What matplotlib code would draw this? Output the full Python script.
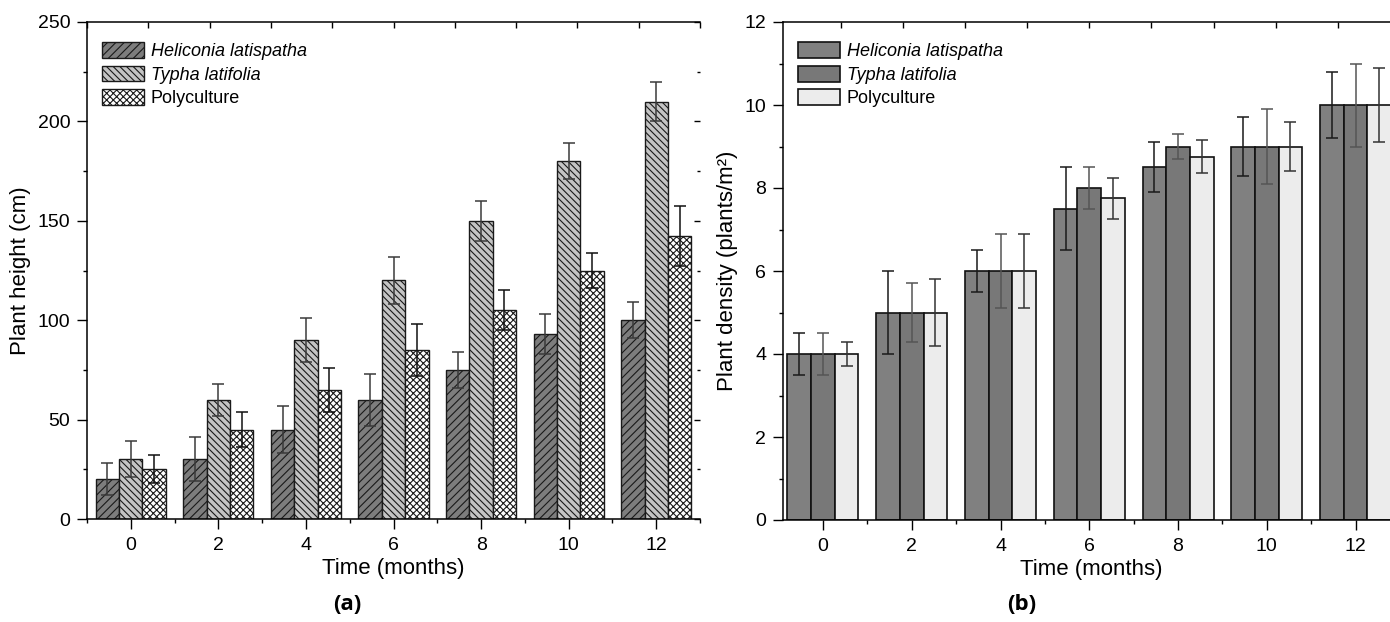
import matplotlib
matplotlib.use("Agg")
import matplotlib.pyplot as plt
from matplotlib.ticker import MultipleLocator
import numpy as np

months = [0, 2, 4, 6, 8, 10, 12]
series = ["Heliconia latispatha", "Typha latifolia", "Polyculture"]

# (a) plant height, cm
height_hel = [20, 30, 45, 60, 75, 93, 100]
height_hel_err = [8, 11, 12, 13, 9, 10, 9]
height_typ = [30, 60, 90, 120, 150, 180, 210]
height_typ_err = [9, 8, 11, 12, 10, 9, 10]
height_pol = [25, 45, 65, 85, 105, 125, 142.5]
height_pol_err = [7, 9, 11, 13, 10, 9, 15]

# (b) plant density, plants/m2
dens_hel = [4, 5, 6, 7.5, 8.5, 9, 10]
dens_hel_err = [0.5, 1.0, 0.5, 1.0, 0.6, 0.7, 0.8]
dens_typ = [4, 5, 6, 8, 9, 9, 10]
dens_typ_err = [0.5, 0.7, 0.9, 0.5, 0.3, 0.9, 1.0]
dens_pol = [4, 5, 6, 7.75, 8.75, 9, 10]
dens_pol_err = [0.3, 0.8, 0.9, 0.5, 0.4, 0.6, 0.9]

plt.rcParams["font.family"] = ["Liberation Sans", "DejaVu Sans"]
plt.rcParams["hatch.linewidth"] = 0.8
plt.rcParams["axes.linewidth"] = 1.1

W, H = 1390, 622
fig = plt.figure(figsize=(W / 100, H / 100), dpi=100)
axa = fig.add_axes([87 / W, (H - 519) / H, 613 / W, 497 / H])
axb = fig.add_axes([783 / W, (H - 520) / H, 617 / W, 498 / H])

bw = 0.533
x = np.array(months, dtype=float)


def style_axes(ax, xlim, ylim, ymaj, ymin, right_ticks):
    ax.set_xlim(*xlim)
    ax.set_ylim(*ylim)
    ax.xaxis.set_major_locator(MultipleLocator(2))
    ax.xaxis.set_minor_locator(MultipleLocator(1))
    ax.yaxis.set_major_locator(MultipleLocator(ymaj))
    ax.yaxis.set_minor_locator(MultipleLocator(ymin))
    ax.tick_params(which="major", direction="out", length=7, width=1.0,
                   labelsize=14)
    ax.tick_params(axis="x", which="major", pad=6)
    ax.tick_params(axis="y", which="major", pad=5)
    ax.tick_params(which="minor", direction="out", length=3, width=1.0)
    ax.tick_params(top=False, right=False, which="both")
    ax.spines["right"].set_visible(False)
    # top axis with its own tick spacing
    sec = ax.secondary_xaxis("top", functions=(lambda v: (v + 1) / 1.4,
                                               lambda v: v * 1.4 - 1))
    sec.xaxis.set_major_locator(MultipleLocator(1))
    sec.tick_params(direction="in", length=4, width=1.0, labeltop=False)
    sec.spines["top"].set_visible(False)
    if right_ticks:
        sr = ax.secondary_yaxis("right")
        sr.yaxis.set_major_locator(MultipleLocator(ymaj))
        sr.yaxis.set_minor_locator(MultipleLocator(ymin))
        sr.tick_params(which="major", direction="in", length=4, width=1.0,
                       labelright=False)
        sr.tick_params(which="minor", direction="in", length=2, width=1.0)
        sr.spines["right"].set_visible(False)


# ---- panel (a)
fills_a = ["#7d7d7d", "#c4c4c4", "#ffffff"]
hatches_a = ["////", "\\\\\\\\\\", "xxxxx"]
ecol_a = ["#3a3a3a", "#3a3a3a", "#111111"]
vals_a = [height_hel, height_typ, height_pol]
errs_a = [height_hel_err, height_typ_err, height_pol_err]
for i in range(3):
    axa.bar(x + (i - 1) * bw, vals_a[i], width=bw, color=fills_a[i],
            edgecolor="#1a1a1a", hatch=hatches_a[i], linewidth=1.0,
            label=series[i], zorder=2)
    axa.errorbar(x + (i - 1) * bw, vals_a[i], yerr=errs_a[i], fmt="none",
                 ecolor=ecol_a[i], elinewidth=1.1, capsize=4, capthick=1.1,
                 zorder=3)
style_axes(axa, (-1, 13), (0, 250), 50, 25, True)
axa.set_ylabel("Plant height (cm)", fontsize=16, labelpad=5)
axa.set_xlabel("Time (months)", fontsize=16, labelpad=3)

# ---- panel (b)
fills_b = ["#808080", "#787878", "#ececec"]
ecol_b = ["#1a1a1a", "#555555", "#333333"]
vals_b = [dens_hel, dens_typ, dens_pol]
errs_b = [dens_hel_err, dens_typ_err, dens_pol_err]
for i in range(3):
    axb.bar(x + (i - 1) * bw, vals_b[i], width=bw, color=fills_b[i],
            edgecolor="#111111", linewidth=1.2, label=series[i], zorder=2)
    axb.errorbar(x + (i - 1) * bw, vals_b[i], yerr=errs_b[i], fmt="none",
                 ecolor=ecol_b[i], elinewidth=1.1, capsize=4, capthick=1.1,
                 zorder=3)
style_axes(axb, (-0.9, 13), (0, 12), 2, 1, False)
axb.set_ylabel("Plant density (plants/m²)", fontsize=16, labelpad=5)
axb.set_xlabel("Time (months)", fontsize=16, labelpad=3)

for ax, width_px in ((axa, 613), (axb, 617)):
    leg = ax.legend(loc="upper left", bbox_to_anchor=(15 / width_px, 1 - 20 / 497),
                    frameon=False, fontsize=13, borderpad=0, borderaxespad=0,
                    handlelength=2.3, handleheight=0.98, labelspacing=0.3,
                    handletextpad=0.4)
    for t in leg.get_texts()[:2]:
        t.set_fontstyle("italic")

fig.text(347 / W, 1 - 605 / H, "(a)", fontsize=16, fontweight="bold",
         ha="center", va="center", family=["Open Sans", "DejaVu Sans"])
fig.text(1022 / W, 1 - 605 / H, "(b)", fontsize=16, fontweight="bold",
         ha="center", va="center", family=["Open Sans", "DejaVu Sans"])

fig.savefig("out.png", dpi=100)
